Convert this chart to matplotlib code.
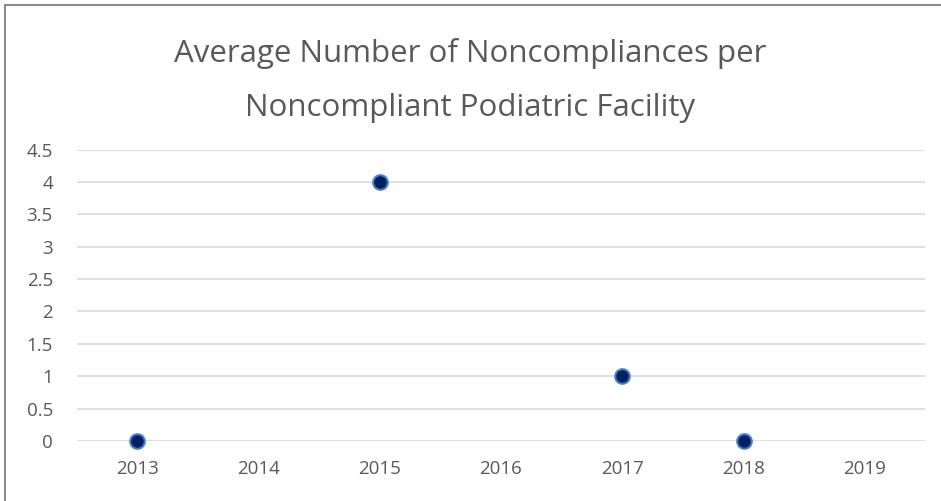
import numpy as np
import matplotlib.pyplot as plt
from matplotlib.lines import Line2D

years = ["2013", "2014", "2015", "2016", "2017", "2018", "2019"]
avg_noncompliances = [0, np.nan, 4, np.nan, 1, 0, np.nan]
y_ticks = [0, 0.5, 1, 1.5, 2, 2.5, 3, 3.5, 4, 4.5]
title_lines = ["Average Number of Noncompliances per", "Noncompliant Podiatric Facility"]

TEXT = "#595959"
GRID = "#d9d9d9"

plt.rcParams["font.family"] = ["Open Sans", "DejaVu Sans"]


def main():
    fig = plt.figure(figsize=(9.41, 5.01), dpi=100)
    ax = fig.add_axes([0.0813, 0.1198, 0.9022, 0.5816])

    x = np.arange(len(years))
    ax.plot(x, avg_noncompliances, linestyle="none", marker="o",
            markersize=10.5, markerfacecolor="#002060",
            markeredgecolor="#4a7cc4", markeredgewidth=1.5,
            zorder=3, clip_on=False)

    ax.set_xlim(-0.5, len(years) - 0.5)
    ax.set_ylim(0, 4.5)
    ax.set_xticks(x)
    ax.set_xticklabels(years)
    ax.set_yticks(y_ticks)
    ax.set_yticklabels([f"{v:g}" for v in y_ticks])
    ax.tick_params(length=0, labelsize=13.5, colors=TEXT)
    ax.tick_params(axis="y", pad=17)
    ax.tick_params(axis="x", pad=14)
    ax.grid(axis="y", color=GRID, linewidth=1.2)
    ax.set_axisbelow(True)
    for s in ax.spines.values():
        s.set_visible(False)

    # two-line title, baselines placed to match the original
    fig.text(0.5, 0.876, title_lines[0], ha="center", va="baseline",
             fontsize=22.5, color=TEXT)
    fig.text(0.5, 0.7685, title_lines[1], ha="center", va="baseline",
             fontsize=22.5, color=TEXT)

    # chart border (left and top only visible)
    fig.add_artist(Line2D([0.0058, 0.0058], [0, 0.99], transform=fig.transFigure,
                          color="#8c8c8c", linewidth=1.5))
    fig.add_artist(Line2D([0.0058, 1], [0.99, 0.99], transform=fig.transFigure,
                          color="#8c8c8c", linewidth=1.5))

    fig.savefig("out.png", dpi=100)
    plt.close(fig)


if __name__ == "__main__":
    main()
